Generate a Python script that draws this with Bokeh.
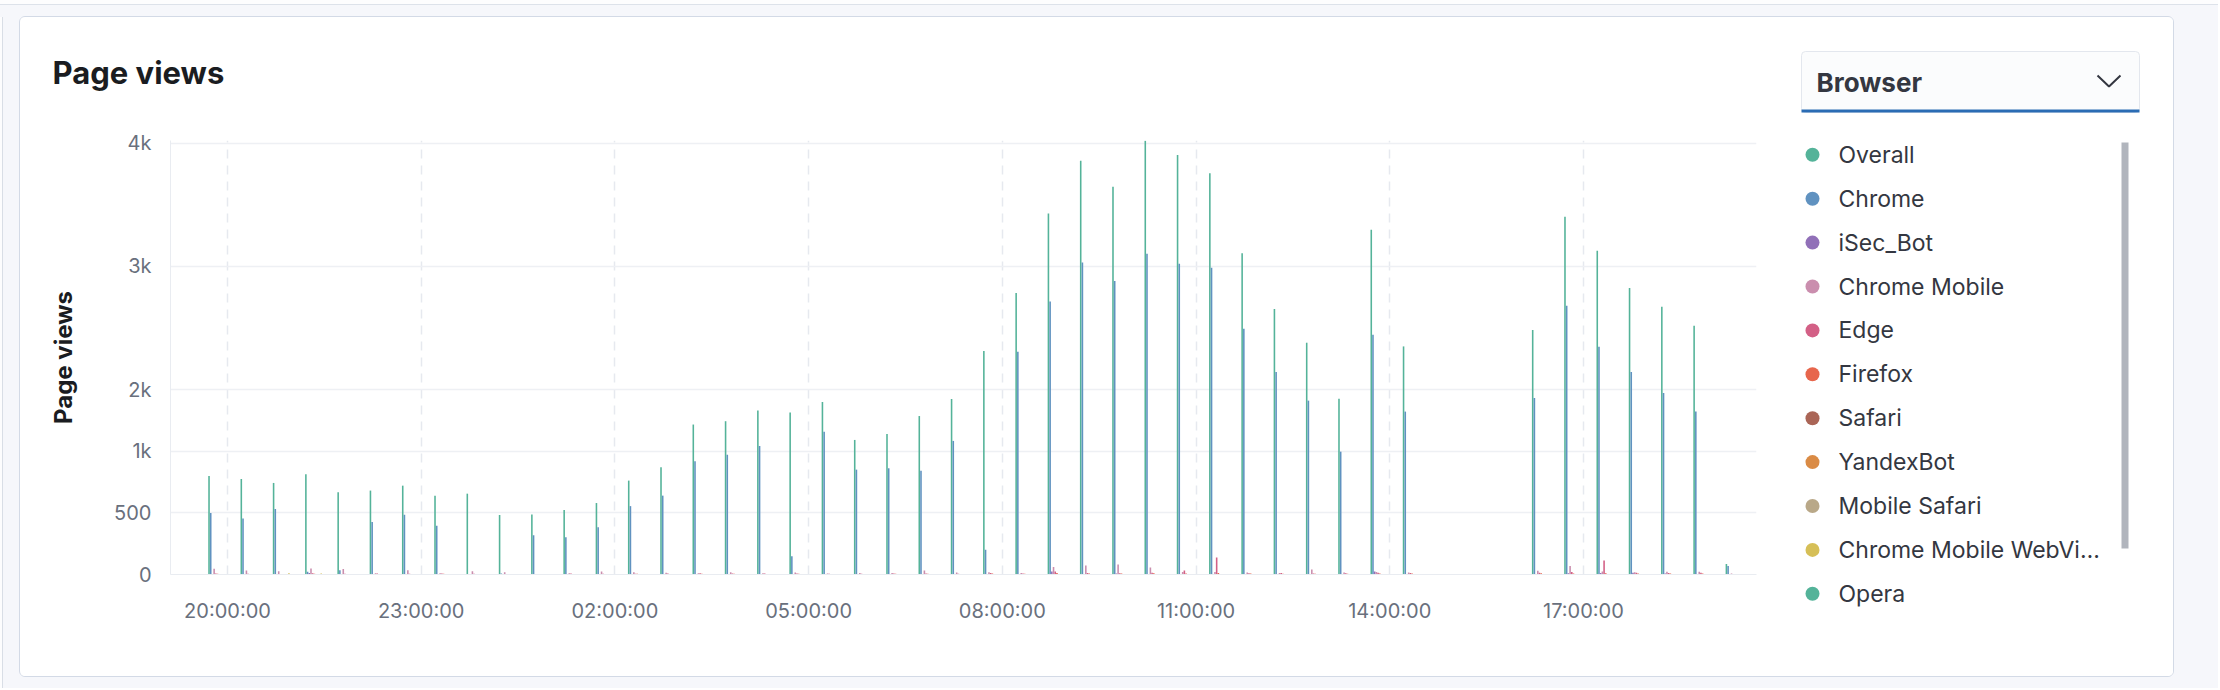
import pandas as pd
from bokeh.plotting import figure
from bokeh.layouts import column, row
from bokeh.models import ColumnDataSource, FixedTicker, DatetimeTickFormatter, Range1d
from bokeh.core.properties import value
from bokeh.embed import file_html
from bokeh.resources import INLINE

# ---------------- data ----------------
TIMES = [
    "2021-06-14 19:30", "2021-06-14 20:00", "2021-06-14 20:30", "2021-06-14 21:00", "2021-06-14 21:30",
    "2021-06-14 22:00", "2021-06-14 22:30", "2021-06-14 23:00", "2021-06-14 23:30",
    "2021-06-15 00:00", "2021-06-15 00:30", "2021-06-15 01:00", "2021-06-15 01:30", "2021-06-15 02:00",
    "2021-06-15 02:30", "2021-06-15 03:00", "2021-06-15 03:30", "2021-06-15 04:00", "2021-06-15 04:30",
    "2021-06-15 05:00", "2021-06-15 05:30", "2021-06-15 06:00", "2021-06-15 06:30", "2021-06-15 07:00",
    "2021-06-15 07:30", "2021-06-15 08:00", "2021-06-15 08:30", "2021-06-15 09:00", "2021-06-15 09:30",
    "2021-06-15 10:00", "2021-06-15 10:30", "2021-06-15 11:00", "2021-06-15 11:30", "2021-06-15 12:00",
    "2021-06-15 12:30", "2021-06-15 13:00", "2021-06-15 13:30", "2021-06-15 14:00",
    "2021-06-15 16:00", "2021-06-15 16:30", "2021-06-15 17:00", "2021-06-15 17:30", "2021-06-15 18:00",
    "2021-06-15 18:30", "2021-06-15 19:00",
]

OVERALL = [800, 776, 743, 814, 667, 681, 721, 640, 656,
           482, 487, 523, 580, 762, 871, 1217, 1244, 1330, 1314, 1400, 1092, 1141, 1286, 1424, 1814,
           2284, 2930, 3357, 3146, 3519, 3405, 3257, 2608, 2154, 1881, 1427, 2797, 1851,
           1984, 2903, 2627, 2324, 2173, 2019, 86]
CHROME = [500, 455, 531, 22, 35, 427, 485, 395, 5,
          8, 319, 302, 384, 555, 640, 920, 972, 1043, 149, 1159, 851, 862, 841, 1084, 200,
          1808, 2216, 2532, 2381, 2603, 2522, 2489, 1995, 1643, 1411, 997, 1946, 1322,
          1432, 2181, 1849, 1643, 1473, 1322, 68]
ISEC_BOT = [0, 0, 0, 12, 0, 0, 0, 0, 0,
            0, 0, 0, 0, 0, 0, 0, 0, 0, 0, 0, 0, 0, 0, 0, 0, 0, 25, 0, 8, 0, 0, 0, 0, 0, 0, 0, 24, 0,
            0, 10, 12, 14, 8, 0, 0]
CHROME_MOBILE = [46, 33, 27, 49, 44, 11, 35, 11, 27,
                 19, 5, 11, 25, 19, 14, 11, 19, 10, 16, 8, 13, 13, 32, 16, 19, 13, 60, 73, 81, 57, 20, 20, 16,
                 13, 40, 16, 20, 16,
                 30, 68, 25, 19, 22, 22, 8]
EDGE = [8, 6, 5, 10, 6, 9, 7, 9, 6,
        5, 4, 8, 6, 7, 9, 10, 8, 8, 9, 6, 7, 8, 9, 7, 12, 8, 25, 12, 10, 15, 32, 138, 10, 12, 8, 10, 14, 12,
        15, 20, 113, 15, 12, 14, 5]
FIREFOX = [6, 5, 4, 6, 3, 5, 4, 6, 4,
           3, 3, 5, 4, 6, 5, 7, 6, 5, 6, 4, 5, 6, 7, 5, 8, 6, 12, 9, 8, 10, 9, 12, 8, 7, 6, 7, 9, 8,
           10, 9, 10, 9, 8, 9, 3]
SAFARI = [3, 2, 3, 2, 2, 3, 2, 3, 2,
          2, 1, 2, 2, 3, 2, 3, 2, 3, 2, 2, 3, 2, 3, 2, 3, 3, 5, 4, 4, 5, 4, 5, 4, 3, 3, 3, 4, 3,
          4, 4, 5, 4, 3, 3, 1]
YANDEX_BOT = [2, 3, 5, 3, 2, 2, 3, 2, 3,
              2, 2, 3, 2, 2, 3, 2, 2, 3, 2, 2, 2, 3, 2, 2, 3, 2, 3, 2, 3, 2, 2, 3, 2, 2, 3, 2, 2, 3,
              2, 3, 2, 2, 3, 2, 1]
MOBILE_SAFARI = [3, 4, 3, 4, 3, 3, 4, 3, 4,
                 3, 3, 4, 3, 3, 4, 3, 4, 3, 4, 3, 3, 4, 3, 4, 3, 4, 5, 4, 5, 4, 5, 4, 4, 3, 4, 3, 4, 3,
                 4, 5, 4, 4, 5, 4, 1]
CHROME_MOBILE_WEBVIEW = [3, 5, 10, 8, 4, 2, 3, 2, 5,
                         4, 3, 2, 3, 2, 3, 2, 3, 2, 2, 3, 2, 3, 2, 3, 2, 2, 3, 2, 3, 2, 2, 3, 2, 2, 2, 3, 2, 2,
                         3, 2, 3, 2, 2, 3, 1]
OPERA = [2, 1, 2, 1, 2, 1, 2, 1, 2,
         4, 3, 1, 2, 1, 2, 1, 2, 1, 1, 2, 1, 2, 1, 3, 1, 2, 2, 1, 2, 1, 2, 1, 2, 1, 2, 1, 2, 1,
         2, 1, 2, 1, 2, 1, 1]

SERIES_NAMES = ["Overall", "Chrome", "iSec_Bot", "Chrome Mobile", "Edge", "Firefox", "Safari",
                "YandexBot", "Mobile Safari", "Chrome Mobile WebView", "Opera"]
SERIES_VALUES = [OVERALL, CHROME, ISEC_BOT, CHROME_MOBILE, EDGE, FIREFOX, SAFARI,
                 YANDEX_BOT, MOBILE_SAFARI, CHROME_MOBILE_WEBVIEW, OPERA]
LEGEND_LABELS = ["Overall", "Chrome", "iSec_Bot", "Chrome Mobile", "Edge", "Firefox", "Safari",
                 "YandexBot", "Mobile Safari", "Chrome Mobile WebVi\u2026", "Opera"]
COLORS = ["#54B399", "#6092C0", "#9170B8", "#CA8EAE", "#D36086", "#E7664C", "#AA6556",
          "#DA8B45", "#B9A888", "#D6BF57", "#54B399"]

Y_TICKS = [0, 500, 1000, 1500, 2500, 3500]
Y_TICK_LABELS = ["0", "500", "1k", "2k", "3k", "4k"]
X_TICKS = ["2021-06-14 20:00", "2021-06-14 23:00", "2021-06-15 02:00", "2021-06-15 05:00",
           "2021-06-15 08:00", "2021-06-15 11:00", "2021-06-15 14:00", "2021-06-15 17:00"]
X_START, X_END = "2021-06-14 19:07:02", "2021-06-15 19:40:48"
Y_MAX = 3522

TITLE = "Page views"
Y_LABEL = "Page views"
DROPDOWN_LABEL = "Browser"

FONT = "Inter"
CARD_W, CARD_H = 2153, 659
TOP_H = 104
CHART_W = 1750
PANEL_W = CARD_W - CHART_W
CHART_H = CARD_H - TOP_H


def blank(fig):
    fig.grid.visible = False
    fig.outline_line_color = None
    fig.background_fill_color = "white"
    fig.border_fill_color = "white"


# ---------------- title strip ----------------
top = figure(width=CHART_W, height=TOP_H, output_backend="svg", toolbar_location=None,
             x_range=Range1d(0, CHART_W), y_range=Range1d(TOP_H, 0),
             x_axis_location=None, y_axis_location=None, min_border=0)
blank(top)
top.text(x=[32], y=[55], text=[TITLE], text_font=value(FONT), text_font_style="bold",
         text_font_size="31px", text_color="#1a1c21", text_baseline="middle")

# ---------------- chart ----------------
p = figure(width=CHART_W, height=CHART_H, output_backend="svg", toolbar_location=None, title=None,
           x_axis_type="datetime",
           x_range=Range1d(pd.Timestamp(X_START).to_pydatetime(), pd.Timestamp(X_END).to_pydatetime()),
           y_range=Range1d(0, Y_MAX),
           min_border_left=150, min_border_right=14, min_border_top=19, min_border_bottom=102)
p.outline_line_color = None
p.border_fill_color = "white"
p.background_fill_color = "white"

times = pd.to_datetime(pd.Series(TIMES))
OFFSET0 = pd.Timedelta(seconds=770)
STEP = pd.Timedelta(seconds=95)
for i, (name, vals, col) in enumerate(zip(SERIES_NAMES, SERIES_VALUES, COLORS)):
    src = ColumnDataSource(dict(x=times + OFFSET0 + i * STEP, top=vals))
    p.vbar(x="x", top="top", bottom=0, width=88_000, source=src,
           fill_color=col, line_color=None, name=name)

p.yaxis.ticker = FixedTicker(ticks=Y_TICKS)
p.yaxis.major_label_overrides = {t: l for t, l in zip(Y_TICKS, Y_TICK_LABELS)}
p.xaxis.ticker = FixedTicker(ticks=[pd.Timestamp(t).value // 10**6 for t in X_TICKS])
fmt = "%H:%M:%S"
p.xaxis.formatter = DatetimeTickFormatter(hours=fmt, hourmin=fmt, minutes=fmt, minsec=fmt,
                                          days=fmt, months=fmt, years=fmt, seconds=fmt)
for ax in (p.xaxis, p.yaxis):
    ax.axis_line_color = "#e9ecf1"
    ax.axis_line_width = 1
    ax.major_tick_line_color = None
    ax.minor_tick_line_color = None
    ax.major_label_text_font = FONT
    ax.major_label_text_color = "#69707d"
    ax.major_label_text_font_size = "20px"
p.yaxis.major_label_standoff = 13
p.xaxis.major_label_standoff = 18
p.yaxis.axis_label = Y_LABEL
p.yaxis.axis_label_text_font = FONT
p.yaxis.axis_label_text_font_style = "bold"
p.yaxis.axis_label_text_font_size = "24px"
p.yaxis.axis_label_text_color = "#1a1c21"
p.yaxis.axis_label_standoff = 33

p.ygrid.grid_line_color = "#eef0f4"
p.ygrid.grid_line_width = 1.5
p.xgrid.grid_line_color = "#e6e9ef"
p.xgrid.grid_line_width = 1.5
p.xgrid.grid_line_dash = "9 7"

# ---------------- dropdown + legend panel (full card height) ----------------
panel = figure(width=PANEL_W, height=CARD_H, output_backend="svg", toolbar_location=None,
               x_range=Range1d(0, PANEL_W), y_range=Range1d(CARD_H, 0),
               x_axis_location=None, y_axis_location=None, min_border=0)
blank(panel)
panel.quad(left=[31], right=[369], top=[34], bottom=[95], fill_color="#fbfcfd",
           line_color="#e3e7ee", line_width=1, border_radius=4)
panel.quad(left=[31], right=[369], top=[92], bottom=[95], fill_color="#2b6cb4", line_color=None)
panel.text(x=[46], y=[65], text=[DROPDOWN_LABEL], text_font=value(FONT), text_font_style="bold",
           text_font_size="26px", text_color="#343741", text_baseline="middle")
panel.line(x=[327, 338.5, 350], y=[58, 69, 58], line_color="#343741", line_width=2)

rows_y = [137.3 + 43.9 * k for k in range(len(LEGEND_LABELS))]
panel.scatter(x=[42] * len(LEGEND_LABELS), y=rows_y, marker="circle", size=14,
              fill_color=COLORS, line_color=None)
panel.text(x=[68] * len(LEGEND_LABELS), y=rows_y, text=LEGEND_LABELS, text_font=value(FONT),
           text_font_size="23px", text_color="#343741", text_baseline="middle")
panel.quad(left=[351], right=[358], top=[125], bottom=[531], fill_color="#b1b5bd", line_color=None)

card = row(column(row(top), p), panel,
           styles={"border": "1px solid #d3dae6", "border-radius": "6px",
                   "background-color": "white", "overflow": "hidden"})
root = column(card, styles={
    "background-color": "#f6f7fb",
    "background-image": ("linear-gradient(to right, #fdfdfe 2px, #d9dee6 2px, #d9dee6 3px, transparent 3px), "
                         "linear-gradient(to bottom, #fdfdfe 4px, #dde2ea 4px, #dde2ea 5px, #f6f7fb 5px)"),
    "background-position": "0px 17px, 0px 0px",
    "background-size": "3px 100%, 100% 6px",
    "background-repeat": "no-repeat",
    "padding": "16px 0px 0px 19px",
    "width": "2218px", "height": "688px", "box-sizing": "border-box"})

open("out.html", "w").write(file_html(root, INLINE))
